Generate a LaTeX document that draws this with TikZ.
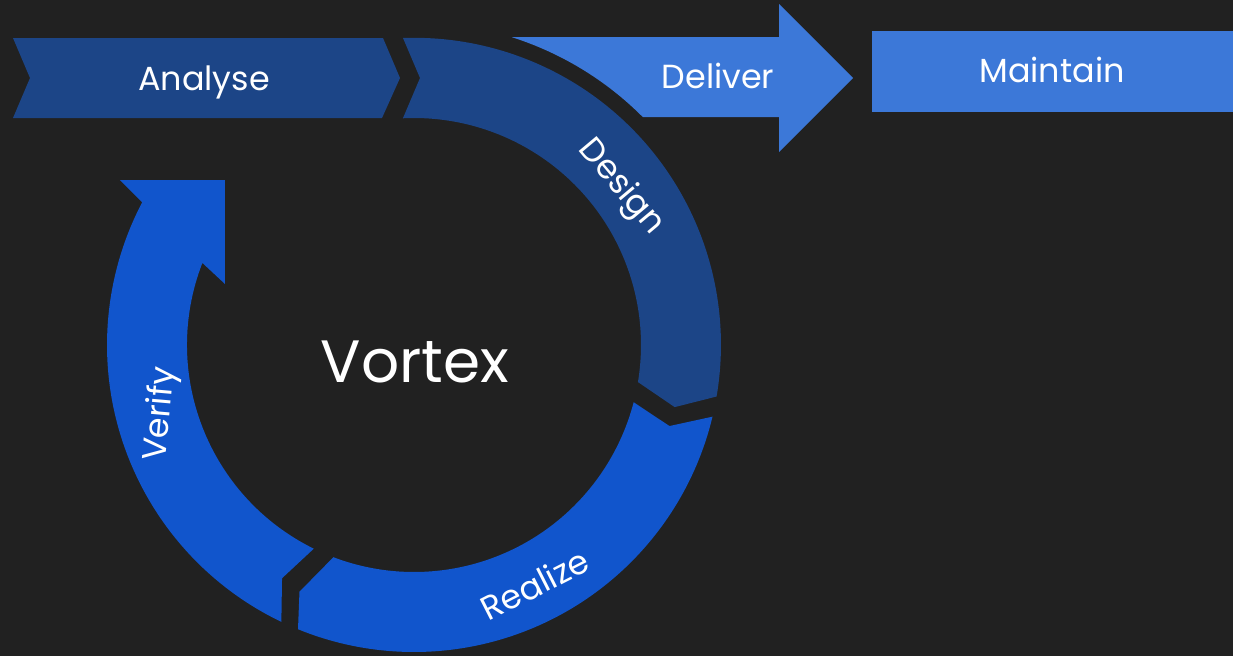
\documentclass[tikz,border=0pt]{standalone}
\usepackage{fontspec}
\setmainfont{Poppins}
\definecolor{bg}{HTML}{212121}
\definecolor{navy}{HTML}{1C4587}
\definecolor{royal}{HTML}{1155CC}
\definecolor{sky}{HTML}{3C78D8}

\begin{document}
\begin{tikzpicture}[x=0.02cm,y=0.02cm,
  lbl/.style={text=white,font=\fontsize{19}{19}\selectfont},
  big/.style={text=white,font=\fontsize{34}{34}\selectfont}]
\fill[bg] (-414,-311) rectangle (819,345);

% top row
\fill[navy] (-401,307) -- (-31,307) -- (-14,267) -- (-32,227) -- (-401,227) -- (-384,267) -- cycle;
\fill[sky] (98,308) -- (365,308) -- (365,341) -- (439,267) -- (365,193) -- (365,228)
  -- (44.87:323) arc[start angle=44.87,end angle=72.35,radius=323] -- cycle;
\fill[sky] (458,233) rectangle (819,314);

% ring
\fill[navy] (-11,307) arc[start angle=92.05,end angle=-9.7,radius=307]
  -- (-13.4:268) -- (-9.4:227) arc[start angle=-9.4,end angle=92.8,radius=227]
  -- (6,267) -- cycle;
\fill[royal] (-13.5:307) arc[start angle=-13.5,end angle=-112.2,radius=307]
  -- (-114.9:272) -- (-110.8:227) arc[start angle=-110.8,end angle=-14.6,radius=227]
  -- (-17.6:268) -- cycle;
\fill[royal] (-115.6:307) arc[start angle=-115.6,end angle=-207.7,radius=307]
  -- (-294,165) -- (-189,165) -- (-189,61)
  -- (-201.2:227) arc[start angle=-201.2,end angle=-116.2,radius=227]
  -- (-119.5:268) -- cycle;

\node[lbl,anchor=base] (analyse) at (-210,255) {Analyse};
\node[lbl,anchor=base] (deliver) at (304,257) {Deliver};
\node[lbl,anchor=base] (maintain) at (638,263) {Maintain};
\node[lbl,rotate=-50] (design) at (37.3:260) {Design};
\node[lbl,rotate=27] (realize) at (-63.2:268) {Realize};
\node[lbl,rotate=85] (verify) at (195.3:262) {Verify};
\node[big,anchor=base] (vortex) at (1,-37) {Vortex};
\end{tikzpicture}
\end{document}
